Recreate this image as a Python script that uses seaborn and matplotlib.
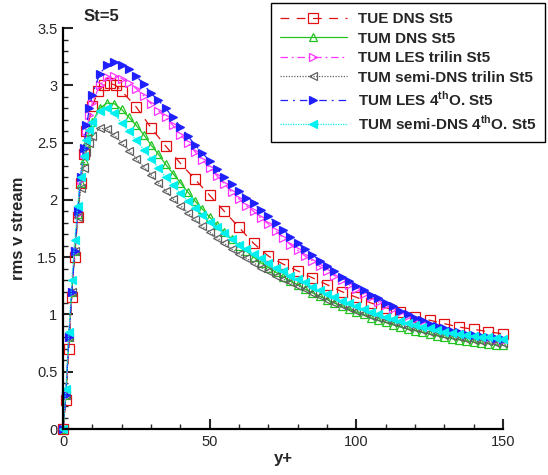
import matplotlib
matplotlib.use("Agg")
import matplotlib.pyplot as plt
from matplotlib.lines import Line2D
from matplotlib.ticker import MultipleLocator, FormatStrFormatter
import seaborn as sns
import pandas as pd

# ---- data ----
# TUE DNS points (sparser squares)
tue_yplus = [0, 1, 2, 3, 4, 5, 6, 7, 8, 10, 12, 14, 16, 18, 20, 25, 30, 35, 40, 45,
             50, 55, 60, 65, 70, 75, 80, 85, 90, 95, 100, 105, 110, 115, 120, 125, 130,
             135, 140, 145, 150]
tue_dns = [0, 0.25, 0.70, 1.15, 1.50, 1.85, 2.15, 2.40, 2.60, 2.82, 2.95, 3.00, 3.02, 3.00, 2.95,
           2.81, 2.63, 2.47, 2.32, 2.18, 2.04, 1.90, 1.76, 1.62, 1.51, 1.44, 1.38, 1.32, 1.26,
           1.20, 1.15, 1.10, 1.06, 1.02, 0.98, 0.95, 0.92, 0.89, 0.87, 0.85, 0.83]

# TUM points (dense)
tum_yplus = [0, 1, 2, 3, 4, 5, 6, 7, 8, 9,
             10, 12.5, 15, 17.5, 20, 22.5, 25, 27.5, 30, 32.5, 35, 37.5, 40, 42.5, 45, 47.5,
             50, 52.5, 55, 57.5, 60, 62.5, 65, 67.5, 70, 72.5, 75, 77.5, 80, 82.5, 85, 87.5,
             90, 92.5, 95, 97.5, 100, 102.5, 105, 107.5, 110, 112.5, 115, 117.5, 120, 122.5,
             125, 127.5, 130, 132.5, 135, 137.5, 140, 142.5, 145, 147.5, 150]

tum_dns = [0, 0.30, 0.80, 1.20, 1.55, 1.88, 2.15, 2.35, 2.50, 2.60,
           2.68, 2.80, 2.845, 2.84, 2.79, 2.72, 2.65, 2.57, 2.48, 2.40, 2.31, 2.23, 2.15, 2.07,
           1.99, 1.92, 1.85, 1.78, 1.72, 1.66, 1.60, 1.55, 1.50, 1.45, 1.41, 1.37, 1.33, 1.29,
           1.26, 1.22, 1.19, 1.16, 1.13, 1.10, 1.07, 1.045, 1.02, 1.00, 0.97, 0.95, 0.93, 0.91,
           0.89, 0.875, 0.86, 0.845, 0.83, 0.815, 0.80, 0.79, 0.78, 0.77, 0.76, 0.75, 0.745,
           0.735, 0.73]
tum_les_trilin = [0, 0.30, 0.80, 1.20, 1.55, 1.88, 2.17, 2.40, 2.60, 2.74,
                  2.85, 3.00, 3.07, 3.08, 3.06, 3.02, 2.97, 2.91, 2.84, 2.78, 2.72, 2.65, 2.57,
                  2.50, 2.42, 2.35, 2.28, 2.21, 2.14, 2.07, 2.01, 1.95, 1.90, 1.84, 1.79, 1.73,
                  1.67, 1.61, 1.56, 1.51, 1.47, 1.42, 1.38, 1.34, 1.30, 1.26, 1.22, 1.18, 1.15,
                  1.11, 1.08, 1.05, 1.02, 0.99, 0.96, 0.94, 0.91, 0.89, 0.87, 0.85, 0.84, 0.82,
                  0.81, 0.80, 0.79, 0.78, 0.77]
tum_semi_trilin = [0, 0.30, 0.80, 1.20, 1.55, 1.85, 2.10, 2.28, 2.42, 2.50,
                   2.56, 2.625, 2.62, 2.565, 2.50, 2.43, 2.36, 2.29, 2.22, 2.15, 2.08, 2.01,
                   1.95, 1.89, 1.83, 1.77, 1.72, 1.67, 1.62, 1.57, 1.53, 1.49, 1.45, 1.41, 1.38,
                   1.34, 1.31, 1.28, 1.25, 1.22, 1.19, 1.16, 1.13, 1.10, 1.08, 1.055, 1.03, 1.01,
                   0.99, 0.97, 0.95, 0.93, 0.915, 0.895, 0.88, 0.865, 0.85, 0.835, 0.82, 0.81,
                   0.80, 0.79, 0.78, 0.77, 0.765, 0.755, 0.75]
tum_les_4th = [0, 0.30, 0.80, 1.20, 1.55, 1.90, 2.20, 2.45, 2.65, 2.80,
               2.92, 3.10, 3.18, 3.20, 3.18, 3.14, 3.08, 3.01, 2.93, 2.87, 2.80, 2.72, 2.64,
               2.56, 2.48, 2.41, 2.34, 2.27, 2.20, 2.14, 2.08, 2.02, 1.97, 1.91, 1.86, 1.80,
               1.74, 1.68, 1.62, 1.57, 1.52, 1.47, 1.42, 1.38, 1.33, 1.29, 1.25, 1.21, 1.17,
               1.14, 1.10, 1.07, 1.03, 1.00, 0.97, 0.95, 0.92, 0.90, 0.88, 0.86, 0.85, 0.83,
               0.82, 0.81, 0.80, 0.795, 0.79]
tum_semi_4th = [0, 0.35, 0.85, 1.30, 1.65, 1.95, 2.20, 2.38, 2.52, 2.61,
                2.68, 2.78, 2.80, 2.76, 2.67, 2.60, 2.52, 2.44, 2.36, 2.28, 2.20, 2.13, 2.06,
                1.99, 1.93, 1.87, 1.81, 1.76, 1.71, 1.66, 1.61, 1.57, 1.53, 1.49, 1.45, 1.41,
                1.38, 1.34, 1.31, 1.28, 1.24, 1.21, 1.18, 1.15, 1.12, 1.10, 1.07, 1.05, 1.02,
                1.00, 0.98, 0.96, 0.94, 0.925, 0.91, 0.895, 0.88, 0.865, 0.85, 0.84, 0.83,
                0.82, 0.81, 0.805, 0.80, 0.795, 0.79]

labels = ["TUE DNS St5", "TUM DNS St5", "TUM LES trilin St5",
          "TUM semi-DNS trilin St5",
          r"TUM LES 4$^{\mathbf{th}}$O. St5",
          r"TUM semi-DNS 4$^{\mathbf{th}}$O. St5"]
xs = [tue_yplus, tum_yplus, tum_yplus, tum_yplus, tum_yplus, tum_yplus]
series = [tue_dns, tum_dns, tum_les_trilin, tum_semi_trilin, tum_les_4th, tum_semi_4th]

styles = [
    dict(color="#e01010", ls=(0, (7, 6)), marker="s", filled=False, ms=6.5),
    dict(color="#22c422", ls="-", marker="^", filled=False, ms=6),
    dict(color="#ff33ff", ls=(0, (6, 3, 1.5, 3)), marker=">", filled=False, ms=6),
    dict(color="#606060", ls=(0, (1, 1.2)), marker="<", filled=False, ms=6),
    dict(color="#2020ff", ls=(0, (6, 4, 1.5, 4)), marker=">", filled=True, ms=6),
    dict(color="#00f0f0", ls=(0, (1, 1)), marker="<", filled=True, ms=6),
]

sns.set_style("ticks")
plt.rcParams["font.family"] = ["Liberation Sans", "DejaVu Sans"]
plt.rcParams["mathtext.fontset"] = "custom"
plt.rcParams["mathtext.rm"] = "Liberation Sans:bold"
plt.rcParams["mathtext.bf"] = "Liberation Sans:bold"

fig = plt.figure(figsize=(5.48, 4.75), dpi=100)
ax = fig.add_axes([0.115, 0.0968, 0.803, 0.844])

for lab, xv, vals, st in zip(labels, xs, series, styles):
    df = pd.DataFrame({"y+": xv, "v": vals})
    sns.lineplot(data=df, x="y+", y="v", ax=ax, sort=False, estimator=None,
                 color=st["color"], linestyle=st["ls"], linewidth=0.9,
                 marker=st["marker"], markersize=st["ms"],
                 markerfacecolor=st["color"] if st["filled"] else "none",
                 markeredgecolor=st["color"], markeredgewidth=0.9,
                 label=lab, legend=False, clip_on=False)

ax.set_xlim(0, 150)
ax.set_ylim(0, 3.5)
ax.xaxis.set_major_locator(MultipleLocator(50))
ax.xaxis.set_minor_locator(MultipleLocator(10))
ax.yaxis.set_major_locator(MultipleLocator(0.5))
ax.yaxis.set_minor_locator(MultipleLocator(0.1))
ax.yaxis.set_major_formatter(FormatStrFormatter("%g"))
ax.tick_params(which="major", direction="in", length=7, width=1.5, labelsize=10.5, pad=4)
ax.tick_params(which="minor", direction="in", length=3.5, width=1.0)
for s in ["top", "right"]:
    ax.spines[s].set_visible(False)
for s in ["left", "bottom"]:
    ax.spines[s].set_linewidth(1.6)
    ax.spines[s].set_color("black")

ax.set_xlabel("y+", fontsize=12, fontweight="bold", labelpad=2)
ax.set_ylabel("rms v stream", fontsize=12, fontweight="bold", labelpad=8)
fig.text(0.152, 0.966, "St=5", fontsize=12, fontweight="bold", va="center", ha="left")

handles = [Line2D([], [], color=st["color"], linestyle=st["ls"], linewidth=0.9,
                  marker=st["marker"], markersize=st["ms"],
                  markerfacecolor=st["color"] if st["filled"] else "none",
                  markeredgecolor=st["color"], markeredgewidth=0.9)
           for st in styles]
leg = fig.legend(handles, labels, loc="upper right", bbox_to_anchor=(0.995, 0.994),
                 borderaxespad=0.0,
                 frameon=True, fancybox=False, edgecolor="black", framealpha=1,
                 prop={"weight": "bold", "size": 11}, handlelength=4.4,
                 numpoints=1, labelspacing=0.36, borderpad=0.6, handletextpad=0.7)
leg.get_frame().set_linewidth(1.0)

fig.savefig("out.png", dpi=100)
